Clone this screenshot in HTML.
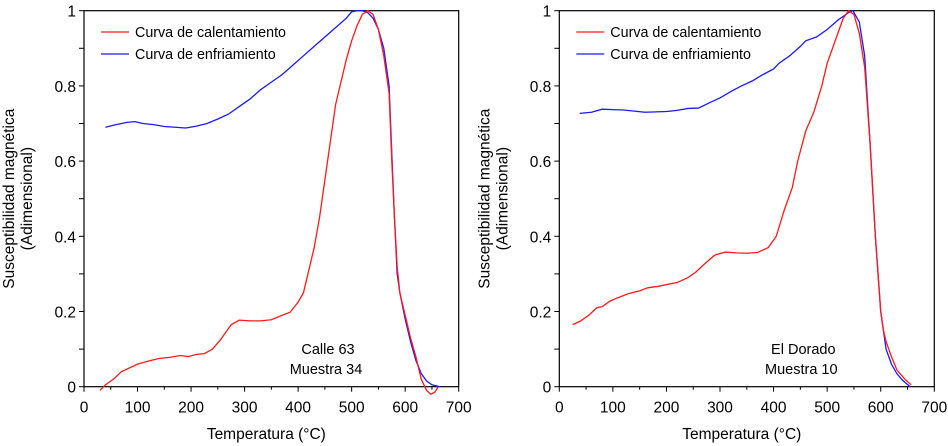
<!DOCTYPE html>
<html><head><meta charset="utf-8"><style>
body{margin:0;background:#fff;}
svg{display:block;font-family:"Liberation Sans","DejaVu Sans",sans-serif;}
</style></head><body>
<svg id="chart" width="948" height="446"></svg>
<script>
const xTicks=[0,100,200,300,400,500,600,700];
const yTicks=[0,0.2,0.4,0.6,0.8,1];
const yTickLabels=["0","0.2","0.4","0.6","0.8","1"];
const leftHeatT=[30,40,55,70,85,100,120,140,160,180,195,210,225,240,255,275,290,310,330,350,365,385,400,410,420,430,440,450,460,470,480,490,500,510,520,530,540,550,560,570,575,580,585,590,600,610,620,630,640,648,655,662];
const leftHeatK=[-0.01,0.005,0.02,0.04,0.05,0.06,0.068,0.075,0.078,0.083,0.08,0.086,0.088,0.1,0.125,0.165,0.177,0.175,0.175,0.178,0.187,0.198,0.225,0.25,0.31,0.37,0.45,0.55,0.65,0.75,0.81,0.87,0.92,0.96,0.99,1.0,0.99,0.95,0.88,0.78,0.6,0.45,0.32,0.25,0.19,0.13,0.08,0.02,-0.01,-0.02,-0.015,0.0];
const leftCoolT=[40,60,80,95,110,130,150,170,190,210,230,250,270,290,310,330,350,370,390,410,430,450,470,490,500,510,520,530,540,550,560,570,575,580,585,590,600,610,620,630,640,650,665];
const leftCoolK=[0.69,0.697,0.703,0.705,0.7,0.697,0.692,0.69,0.688,0.693,0.7,0.712,0.725,0.745,0.765,0.79,0.81,0.83,0.855,0.88,0.905,0.93,0.955,0.98,0.997,1.0,1.0,0.995,0.98,0.95,0.9,0.8,0.62,0.45,0.3,0.25,0.18,0.12,0.07,0.035,0.015,0.005,0.0];
const rightHeatT=[25,40,55,70,80,95,110,130,150,165,185,205,220,240,255,270,290,310,330,350,370,390,405,420,435,445,460,475,490,500,515,530,540,550,560,570,580,590,600,605,610,620,630,645,657];
const rightHeatK=[0.165,0.175,0.19,0.21,0.213,0.228,0.237,0.248,0.255,0.263,0.267,0.273,0.277,0.29,0.305,0.325,0.35,0.358,0.356,0.355,0.357,0.37,0.4,0.47,0.53,0.6,0.68,0.73,0.8,0.86,0.92,0.98,1.0,0.99,0.94,0.85,0.65,0.4,0.2,0.15,0.12,0.08,0.045,0.02,0.005];
const rightCoolT=[38,60,80,100,120,140,160,180,200,220,240,260,280,300,320,340,360,380,400,410,430,450,460,480,500,520,540,548,560,570,580,590,600,610,620,630,640,655];
const rightCoolK=[0.727,0.73,0.738,0.737,0.736,0.733,0.73,0.731,0.732,0.735,0.74,0.741,0.755,0.768,0.785,0.8,0.813,0.83,0.845,0.86,0.88,0.905,0.92,0.93,0.95,0.975,0.995,1.0,0.97,0.88,0.65,0.4,0.2,0.1,0.06,0.035,0.018,0.0];

const svg=document.getElementById('chart');
const NS='http://www.w3.org/2000/svg';
function mk(tag,attrs,parent,text){const e=document.createElementNS(NS,tag);for(const k in attrs)e.setAttribute(k,attrs[k]);if(text!==undefined)e.textContent=text;parent.appendChild(e);return e;}

function panel(prefix,x0,x1,heatT,heatK,coolT,coolK,l1,l2){
  const y0=386.7,y1=10.7;
  const g=mk('g',{},svg);
  
  
  const sx=v=>x0+(x1-x0)*v/700, sy=v=>y0+(y1-y0)*v;
  const frame=mk('rect',{x:x0,y:y1,width:x1-x0,height:y0-y1,fill:'none',stroke:'#000','stroke-width':1.2},g);
  
  
  for(let i=0;i<=10;i++){const y=sy(i/10);mk('line',{x1:x0-5,x2:x0,y1:y,y2:y,stroke:'#000'},g);}
  yTicks.forEach((v,i)=>{const t=mk('text',{x:x0-8,y:sy(v)+6,'text-anchor':'end','font-size':15.5},g,yTickLabels[i]);
    
    });
  xTicks.forEach(v=>{const x=sx(v);mk('line',{x1:x,x2:x,y1:y0,y2:y0+5,stroke:'#000'},g);
    const t=mk('text',{x:x,y:y0+26,'text-anchor':'middle','font-size':15.5},g,String(v));
    
    });
  for(let v=50;v<700;v+=100){const x=sx(v);mk('line',{x1:x,x2:x,y1:y0,y2:y0+3,stroke:'#000'},g);}
  const xt=mk('text',{x:(x0+x1)/2-5,y:439,'text-anchor':'middle','font-size':15.5},g,'Temperatura  (°C)');
  
  
  const cy=(y0+y1)/2;
  const yt=mk('text',{transform:`translate(${x0-70},${cy}) rotate(-90)`,'text-anchor':'middle','font-size':15.5},g,'Susceptibilidad magnética');
  
  
  const yt2=mk('text',{transform:`translate(${x0-52},${cy}) rotate(-90)`,'text-anchor':'middle','font-size':15.5},g,'(Adimensional)');
  
  
  const line=(T,K,c,n)=>{const p=mk('polyline',{points:T.map((t,i)=>sx(t)+','+sy(K[i])).join(' '),fill:'none',stroke:c,'stroke-width':1.3},g);
    
    };
  line(coolT,coolK,'#1a1aff',prefix+'-cooling-curve');
  line(heatT,heatK,'#ff1a1a',prefix+'-heating-curve');
  const lx=x0+17;
  [['#ff1a1a','Curva de calentamiento',32,'legend-heating'],['#1a1aff','Curva de enfriamiento',54,'legend-cooling']].forEach(([c,t,y,n])=>{
    const lg=mk('g',{},g);
    
    
    mk('line',{x1:lx,x2:lx+28,y1:y,y2:y,stroke:c,'stroke-width':1.3},lg);
    mk('text',{x:lx+34,y:y+5,'font-size':14.3},lg,t);
  });
  const a=mk('text',{x:x0+244,y:354,'text-anchor':'middle','font-size':14.5},g,l1);
  
  
  const b=mk('text',{x:x0+242,y:374,'text-anchor':'middle','font-size':14.5},g,l2);
  
  
}
panel('left',84,458.7,leftHeatT,leftHeatK,leftCoolT,leftCoolK,'Calle 63','Muestra 34');
panel('right',559.3,934.3,rightHeatT,rightHeatK,rightCoolT,rightCoolK,'El Dorado','Muestra 10');
</script>
</body></html>
